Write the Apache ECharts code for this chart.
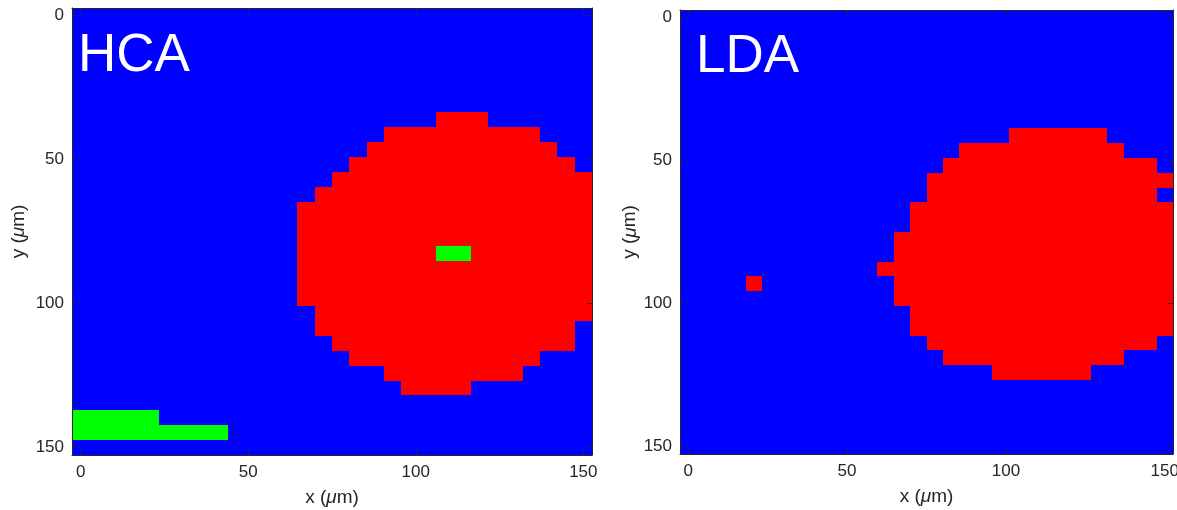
<!DOCTYPE html>
<html>
<head>
<meta charset="utf-8">
<script src="https://cdn.jsdelivr.net/npm/echarts@6/dist/echarts.min.js"></script>
<style>
  html, body { margin: 0; padding: 0; background: #ffffff; }
  #chart { width: 1177px; height: 510px; }
</style>
</head>
<body>
<div id="chart"></div>
<script>
// ---- data ----
// 30 x 30 pixel map, pixel centres at 0 .. 150 µm
const GRID_N = 30;
const CELL = 150 / 29;                       // µm per pixel
const tickValues = [0, 50, 100, 150];
const panelTitles = ['HCA', 'LDA'];
const classColors = ['#0000ff', '#ff0000', '#00ff00'];   // 0 blue, 1 red, 2 green

// runs: [row, firstCol, lastCol, class]; everything else is class 0
const hcaRuns = [
  [7, 21, 23, 1], [8, 18, 26, 1], [9, 17, 27, 1], [10, 16, 28, 1],
  [11, 15, 29, 1], [12, 14, 29, 1],
  [13, 13, 29, 1], [14, 13, 29, 1], [15, 13, 29, 1], [16, 13, 29, 1],
  [17, 13, 29, 1], [18, 13, 29, 1], [19, 13, 29, 1],
  [20, 14, 29, 1], [21, 14, 28, 1], [22, 15, 28, 1], [23, 16, 26, 1],
  [24, 18, 25, 1], [25, 19, 22, 1],
  [16, 21, 22, 2], [27, 0, 4, 2], [28, 0, 8, 2]
];
const ldaRuns = [
  [8, 20, 25, 1], [9, 17, 26, 1], [10, 16, 28, 1], [11, 15, 29, 1],
  [12, 15, 28, 1], [13, 14, 29, 1], [14, 14, 29, 1],
  [15, 13, 29, 1], [16, 13, 29, 1], [17, 12, 29, 1], [18, 13, 29, 1],
  [19, 13, 29, 1], [20, 14, 29, 1], [21, 14, 29, 1],
  [22, 15, 28, 1], [23, 16, 26, 1], [24, 19, 24, 1],
  [18, 4, 4, 1]
];

// ---- build cell lists ----
function buildCells(runs) {
  const map = [];
  for (let i = 0; i < GRID_N; i++) map.push(new Array(GRID_N).fill(0));
  runs.forEach(([r, c0, c1, cls]) => { for (let c = c0; c <= c1; c++) map[r][c] = cls; });
  const out = [];
  for (let i = 0; i < GRID_N; i++)
    for (let j = 0; j < GRID_N; j++)
      out.push([j * CELL, i * CELL, map[i][j]]);
  return out;
}
const panelCells = [buildCells(hcaRuns), buildCells(ldaRuns)];

// ---- styling ----
const FONT = '"Liberation Sans", Arial, Helvetica, sans-serif';
const INK = '#262626';
const AX_MIN = -CELL / 2, AX_MAX = 150 + CELL / 2;

const grids = [
  { left: 72, top: 8, width: 520, height: 447, containLabel: false, outerBoundsMode: 'none' },
  { left: 680, top: 10, width: 493, height: 444, containLabel: false, outerBoundsMode: 'none' }
];
const yNameGap = [44, 39];
const titlePos = [{ left: 78, top: 30 }, { left: 696, top: 31 }];

function renderCell(params, api) {
  const x = api.value(0), y = api.value(1), cls = api.value(2);
  const a = api.coord([x - CELL / 2, y - CELL / 2]);
  const b = api.coord([x + CELL / 2, y + CELL / 2]);
  const x0 = Math.round(Math.min(a[0], b[0])), x1 = Math.round(Math.max(a[0], b[0]));
  const y0 = Math.round(Math.min(a[1], b[1])), y1 = Math.round(Math.max(a[1], b[1]));
  return {
    type: 'rect',
    shape: { x: x0, y: y0, width: x1 - x0, height: y1 - y0 },
    style: { fill: classColors[cls] }
  };
}

const axisLine = { show: true, onZero: false, lineStyle: { color: INK, width: 1 } };
const axisTick = { show: true, inside: true, length: 5, customValues: tickValues, lineStyle: { color: INK, width: 1 } };
const labelBase = { fontSize: 17, color: INK, fontFamily: FONT, customValues: tickValues };
const nameRich = {
  a: { fontSize: 19, color: INK, fontFamily: FONT },
  b: { fontSize: 19, color: INK, fontFamily: FONT, fontStyle: 'italic' }
};

const xAxes = [], yAxes = [], series = [], titles = [];
grids.forEach((g, k) => {
  xAxes.push({
    gridIndex: k, type: 'value', position: 'bottom', min: AX_MIN, max: AX_MAX, z: 10,
    axisLine, axisTick, splitLine: { show: false },
    axisLabel: Object.assign({ margin: 9 }, labelBase),
    name: '{a|x (}{b|μ}{a|m)}', nameLocation: 'middle', nameGap: 33,
    nameTextStyle: { rich: nameRich }
  });
  xAxes.push({
    gridIndex: k, type: 'value', position: 'top', min: AX_MIN, max: AX_MAX, z: 10,
    axisLine, axisTick, splitLine: { show: false }, axisLabel: { show: false }
  });
  yAxes.push({
    gridIndex: k, type: 'value', position: 'left', inverse: true, min: AX_MIN, max: AX_MAX, z: 10,
    axisLine, axisTick, splitLine: { show: false },
    axisLabel: Object.assign({ margin: 8 }, labelBase),
    name: '{a|y (}{b|μ}{a|m)}', nameLocation: 'middle', nameGap: yNameGap[k],
    nameTextStyle: { rich: nameRich }
  });
  yAxes.push({
    gridIndex: k, type: 'value', position: 'right', inverse: true, min: AX_MIN, max: AX_MAX, z: 10,
    axisLine, axisTick, splitLine: { show: false }, axisLabel: { show: false }
  });
  series.push({
    type: 'custom', xAxisIndex: 2 * k, yAxisIndex: 2 * k, clip: true,
    renderItem: renderCell, data: panelCells[k], silent: true, animation: false
  });
  titles.push({
    text: panelTitles[k], left: titlePos[k].left, top: titlePos[k].top, padding: 0, z: 20,
    textStyle: { color: '#ffffff', fontSize: 53, fontWeight: 'normal', fontFamily: FONT }
  });
});

const chart = echarts.init(document.getElementById('chart'), null, { renderer: 'canvas' });
chart.setOption({
  backgroundColor: '#ffffff',
  animation: false,
  title: titles,
  grid: grids,
  xAxis: xAxes,
  yAxis: yAxes,
  series: series
});
</script>
</body>
</html>
